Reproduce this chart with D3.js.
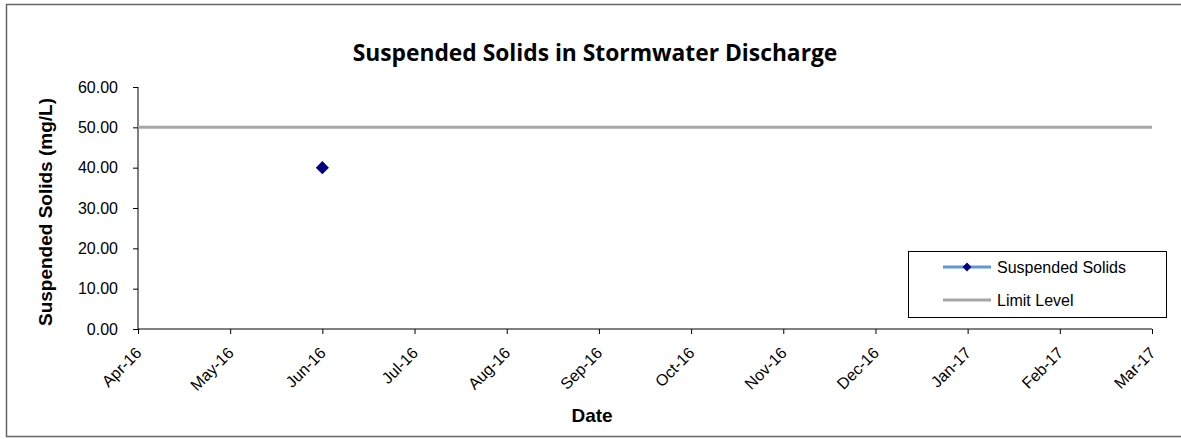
<!DOCTYPE html>
<html>
<head>
<meta charset="utf-8">
<script src="https://cdn.jsdelivr.net/npm/d3@7"></script>
<style>
  body { margin: 0; background: #fff; }
  text { font-family: "Liberation Sans", Arial, sans-serif; fill: #000; }
  .axis path, .axis line { stroke: #000; }
</style>
</head>
<body>
<div id="chart"></div>
<script>
// data
const months = ['Apr-16', 'May-16', 'Jun-16', 'Jul-16', 'Aug-16', 'Sep-16',
  'Oct-16', 'Nov-16', 'Dec-16', 'Jan-17', 'Feb-17', 'Mar-17'];
const solids = [{month: 'Jun-16', value: 40}];
const limitLevel = 50;
const yTicks = [0, 10, 20, 30, 40, 50, 60];
const seriesNames = ['Suspended Solids', 'Limit Level'];

const width = 1181, height = 439;
const margin = {top: 87, right: 29, bottom: 110, left: 138};

const svg = d3.select('#chart').append('svg')
  .attr('width', width)
  .attr('height', height);

// outer frame
svg.append('rect')
  .attr('x', 6.5).attr('y', 4.5)
  .attr('width', width + 10).attr('height', 432)
  .attr('fill', 'none')
  .attr('stroke', '#666')
  .attr('stroke-width', 1.5);

const x = d3.scalePoint().domain(months).range([margin.left, width - margin.right]);
const y = d3.scaleLinear().domain([0, 60]).range([height - margin.bottom, margin.top]);

// y axis
svg.append('g')
  .attr('class', 'axis')
  .attr('transform', `translate(${margin.left},0)`)
  .call(d3.axisLeft(y).tickValues(yTicks).tickSize(5).tickPadding(15).tickFormat(d3.format('.2f')))
  .call(g => g.selectAll('text').style('font-size', '16px'))
  .call(g => g.select('.domain').attr('d', `M0,${y(60)}V${y(0)}`));

// x axis
svg.append('g')
  .attr('class', 'axis')
  .attr('transform', `translate(0,${y(0)})`)
  .call(d3.axisBottom(x).tickSize(5).tickSizeOuter(0))
  .call(g => g.select('.domain').attr('d', `M${x.range()[0]},0H${x.range()[1]}`))
  .call(g => g.selectAll('text')
    .style('font-size', '16px')
    .attr('text-anchor', 'end')
    .attr('dy', null)
    .attr('y', 0)
    .attr('transform', 'translate(4,25) rotate(-45)'));

// limit line
svg.append('line')
  .attr('x1', x(months[0])).attr('x2', x(months[months.length - 1]))
  .attr('y1', y(limitLevel)).attr('y2', y(limitLevel))
  .attr('stroke', '#a6a6a6')
  .attr('stroke-width', 3);

// suspended solids points
const diamond = d3.symbol().type(d3.symbolDiamond2).size(110);
svg.append('g').selectAll('path')
  .data(solids)
  .join('path')
    .attr('d', diamond)
    .attr('transform', d => `translate(${x(d.month)},${y(d.value)})`)
    .attr('fill', '#000080');

// title
svg.append('text')
  .attr('x', 595).attr('y', 61)
  .attr('text-anchor', 'middle')
  .style('font-family', '"Open Sans", sans-serif')
  .style('font-weight', 'bold')
  .style('font-size', '22.8px')
  .text('Suspended Solids in Stormwater Discharge');

// axis titles
svg.append('text')
  .attr('transform', 'translate(52,212) rotate(-90)')
  .attr('text-anchor', 'middle')
  .style('font-weight', 'bold')
  .style('font-size', '19px')
  .text('Suspended Solids (mg/L)');

svg.append('text')
  .attr('x', 592).attr('y', 422)
  .attr('text-anchor', 'middle')
  .style('font-weight', 'bold')
  .style('font-size', '19px')
  .text('Date');

// legend
const legend = svg.append('g')
  .attr('transform', 'translate(908,251)');
legend.append('rect')
  .attr('x', 0.5).attr('y', 0.5)
  .attr('width', 258).attr('height', 66)
  .attr('fill', '#fff')
  .attr('stroke', '#000');
seriesNames.forEach((name, i) => {
  const item = legend.append('g').attr('transform', `translate(0,${16 + i * 33})`);
  item.append('line')
    .attr('x1', 35).attr('x2', 83)
    .attr('stroke', i === 0 ? '#5b9bd5' : '#a6a6a6')
    .attr('stroke-width', 3);
  if (i === 0) {
    item.append('path')
      .attr('d', d3.symbol().type(d3.symbolDiamond2).size(50))
      .attr('transform', 'translate(59,0)')
      .attr('fill', '#000080');
  }
  item.append('text')
    .attr('x', 89).attr('y', 6)
    .style('font-size', '16px')
    .text(name);
});
</script>
</body>
</html>
